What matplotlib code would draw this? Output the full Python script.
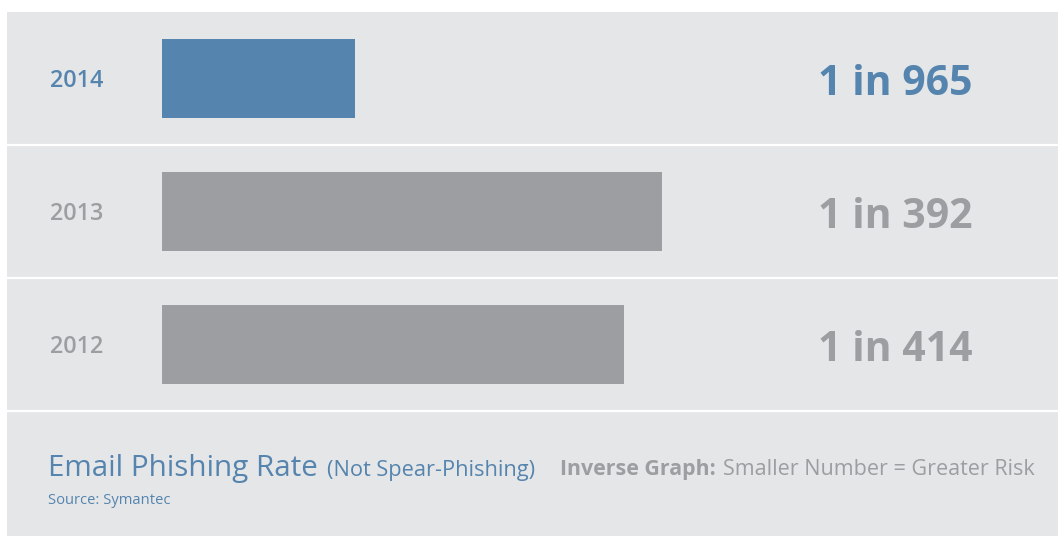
import matplotlib
matplotlib.use("Agg")
import matplotlib.pyplot as plt
import matplotlib.transforms as mtransforms
from matplotlib.patches import Rectangle

years = ["2014", "2013", "2012"]
rate_labels = ["1 in 965", "1 in 392", "1 in 414"]
bar_values = [0.386, 1.0, 0.924]  # relative bar length (inverse graph)
highlight = [True, False, False]

title_main = "Email Phishing Rate"
title_sub = "(Not Spear-Phishing)"
note_bold = "Inverse Graph:"
note_text = "Smaller Number = Greater Risk"
source = "Source: Symantec"

BG = "#e5e6e8"
BLUE = "#5584ae"
GRAY = "#9d9ea1"
FONT = "Open Sans"

W, H = 1058, 536
fig = plt.figure(figsize=(W / 100, H / 100), dpi=100, facecolor="white")

def fx(px):
    return px / W

def fy(py):
    return 1 - py / H

# panel background
fig.patches.append(Rectangle((fx(7), 0), 1 - fx(7), fy(12), transform=fig.transFigure,
                             facecolor=BG, edgecolor="none", zorder=-5))

# axes spanning the three rows
ax = fig.add_axes([fx(7), fy(411), 1 - fx(7), fy(12) - fy(411)])
ax.set_zorder(2)
ax.set_facecolor("none")
ax.patch.set_visible(False)
scale = 500.0  # px per unit
ax.set_xlim(-(162 - 7) / scale, (W - 162) / scale)
ax.set_ylim(2.5, -0.5)
for s in ax.spines.values():
    s.set_visible(False)
ax.set_xticks([])
ax.set_yticks([])

pos = list(range(len(years)))
colors = [BLUE if h else GRAY for h in highlight]
ax.barh(pos, bar_values, height=79 / 133, color=colors, left=0, zorder=2)

for y in [0.5, 1.5, 2.5]:
    ax.axhline(y, color="white", lw=1.6, zorder=1, clip_on=False)

trans = mtransforms.blended_transform_factory(fig.transFigure, ax.transData)
for i, (yr, lab, h) in enumerate(zip(years, rate_labels, highlight)):
    c = BLUE if h else GRAY
    ax.text(fx(50), i + 8.5 / 133, yr, transform=trans, ha="left", va="baseline",
            fontsize=16.8, fontweight="semibold", color=c, family=FONT)
    ax.text(fx(972), i + 16.5 / 133, lab, transform=trans, ha="right", va="baseline",
            fontsize=29.5, fontweight="bold", color=c, family=FONT)

# footer
fig.text(fx(48), fy(476), title_main, ha="left", va="baseline", fontsize=21.3,
         color=BLUE, family=FONT)
fig.text(fx(327), fy(476), title_sub, ha="left", va="baseline", fontsize=15.7,
         color=BLUE, family=FONT)
fig.text(fx(560), fy(475), note_bold, ha="left", va="baseline", fontsize=15.4,
         fontweight="bold", color=GRAY, family=FONT)
fig.text(fx(723), fy(475), note_text, ha="left", va="baseline", fontsize=15.5,
         color=GRAY, family=FONT)
fig.text(fx(48), fy(504), source, ha="left", va="baseline", fontsize=10.6,
         color=BLUE, family=FONT)

fig.savefig("out.png", dpi=100, facecolor="white")
